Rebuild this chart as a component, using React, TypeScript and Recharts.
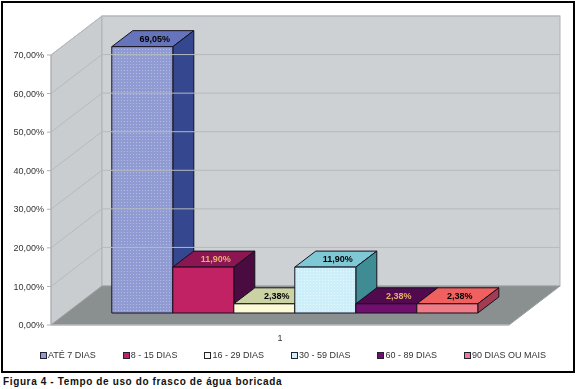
import { BarChart, Bar, XAxis, YAxis, Legend, LabelList, ReferenceArea, ReferenceLine } from 'recharts';

const categories = ['1'];
const seriesNames = ['ATÉ 7 DIAS', '8 - 15 DIAS', '16 - 29 DIAS', '30 - 59 DIAS', '60 - 89 DIAS', '90 DIAS OU MAIS'];
const seriesValues = [69.05, 11.9, 2.38, 11.9, 2.38, 2.38];
const yTicks = [0, 10, 20, 30, 40, 50, 60, 70];

const frontColors = ['#8f9bd2', '#c02264', '#fdfbd6', '#cdeffa', '#700f70', '#f07c88'];
const dotColors = ['#b4bce0', '#c02264', '#fdfbd6', '#e6f8fd', '#700f70', '#f07c88'];
const topColors = ['#6675bb', '#8c1652', '#cbd2a4', '#7fc9d6', '#520a4e', '#f0605f'];
const sideColors = ['#34478f', '#4a0c40', '#9a9c78', '#3f8c94', '#3d083c', '#a23c52'];
const labelColors = ['#000', '#e8b070', '#000', '#000', '#e8b070', '#000'];

const chartData = categories.map((name) => {
    const row: Record<string, string | number> = { name };
    seriesNames.forEach((s, i) => {
        row[s] = seriesValues[i];
    });
    return row;
});

const formatPct = (v: number) => v.toFixed(2).replace('.', ',') + '%';

// depth of the walls and of the bars, the picture is a fake 3D
const WALL_DX = 51;
const WALL_DY = 39;
const BAR_DX = 21;
const BAR_DY = 16;
const SHIFT_X = 15;
const SHIFT_Y = 12;
const FONT = '"Liberation Sans", Arial, sans-serif';

function Walls({ x, y, width, height }: any) {
    const bottom = y + height;
    return (
        <g>
            <polygon points={`${x},${y} ${x + WALL_DX},${y - WALL_DY} ${x + WALL_DX},${bottom - WALL_DY} ${x},${bottom}`} fill="#c9cdd0" stroke="#b0b3b5" />
            <rect x={x + WALL_DX} y={y - WALL_DY} width={width} height={height} fill="#cdd1d4" stroke="#aeb1b3" />
            <polygon
                points={`${x},${bottom} ${x + WALL_DX},${bottom - WALL_DY} ${x + WALL_DX + width},${bottom - WALL_DY} ${x + width},${bottom}`}
                fill="#8a8f8f"
                stroke="#9a9e9e"
            />
        </g>
    );
}

function GridLine({ x1, y1, x2, y2 }: any) {
    return <path d={`M${x1},${y1} L${x1 + WALL_DX},${y1 - WALL_DY} L${x2 + WALL_DX},${y2 - WALL_DY}`} fill="none" stroke="#b6babd" strokeWidth={1} />;
}

function Box3D({ x, y, width, height, index }: any) {
    const l = x + SHIFT_X;
    const t = y - SHIFT_Y;
    const r = l + width;
    const b = t + height;
    const id = `dots-${index}`;
    return (
        <g stroke="#14101e" strokeWidth={1} strokeLinejoin="round">
            <defs>
                <pattern id={id} width={3} height={3} patternUnits="userSpaceOnUse">
                    <rect width={3} height={3} fill={frontColors[index]} stroke="none" />
                    <rect x={1} y={1} width={1} height={1} fill={dotColors[index]} stroke="none" />
                </pattern>
            </defs>
            <polygon points={`${l},${t} ${l + BAR_DX},${t - BAR_DY} ${r + BAR_DX},${t - BAR_DY} ${r},${t}`} fill={topColors[index]} />
            <polygon points={`${r},${t} ${r + BAR_DX},${t - BAR_DY} ${r + BAR_DX},${b - BAR_DY} ${r},${b}`} fill={sideColors[index]} />
            <rect x={l} y={t} width={width} height={height} fill={`url(#${id})`} />
        </g>
    );
}

function TopLabel({ x, y, width, value, index }: any) {
    return (
        <text
            x={x + SHIFT_X + width / 2 + BAR_DX / 2 + 2}
            y={y - SHIFT_Y - BAR_DY / 2 + 3}
            textAnchor="middle"
            fontFamily={FONT}
            fontSize={9}
            fontWeight={700}
            fill={labelColors[index]}
        >
            {formatPct(value)}
        </text>
    );
}

function LegendRow() {
    return (
        <div style={{ display: 'flex', height: 40, paddingLeft: 40, fontFamily: FONT, fontSize: 9, color: '#333' }}>
            {seriesNames.map((name, i) => (
                <span key={name} style={{ display: 'flex', alignItems: 'center', height: 12, marginRight: 27 }}>
                    <span style={{ width: 5, height: 5, border: '1px solid #223', background: frontColors[i], marginRight: 1 }} />
                    {name}
                </span>
            ))}
        </div>
    );
}

export default function App() {
    return (
        <div style={{ position: 'absolute', left: 0, top: 0, width: 575, height: 389, background: '#fff' }}>
            <div style={{ position: 'absolute', left: 1, top: 1, width: 570, height: 368, border: '2px solid #000' }} />
            <div style={{ filter: 'blur(0.35px)' }}>
                <BarChart
                    width={575}
                    height={389}
                    data={chartData}
                    margin={{ top: 55, right: 66, bottom: 0, left: 0 }}
                    barCategoryGap="10%"
                    barGap={0}
                >
                    <ReferenceArea y1={0} y2={70} shape={<Walls />} />
                    {yTicks.slice(1).map((t) => (
                        <ReferenceLine key={t} y={t} shape={<GridLine />} />
                    ))}
                    <XAxis dataKey="name" height={24} tickLine={false} axisLine={{ stroke: '#c4c6c6' }} tick={{ fontFamily: FONT, fontSize: 9, fill: '#333' }} tickMargin={4} />
                    <YAxis
                        width={51}
                        domain={[0, 70]}
                        ticks={yTicks}
                        tickFormatter={formatPct}
                        interval={0}
                        tickSize={4}
                        tickMargin={3}
                        stroke="#aeb1b3"
                        tick={{ fontFamily: FONT, fontSize: 9, fill: '#333' }}
                    />
                    {seriesNames.map((name, i) => (
                        <Bar key={name} dataKey={name} fill={frontColors[i]} shape={(p: any) => <Box3D {...p} index={i} />} isAnimationActive={false}>
                            <LabelList dataKey={name} content={(p: any) => <TopLabel {...p} index={i} />} />
                        </Bar>
                    ))}
                    <Legend content={<LegendRow />} wrapperStyle={{ left: 0, top: 349, width: 575 }} />
                </BarChart>
            </div>
            <div
                style={{
                    position: 'absolute',
                    left: 3,
                    top: 376,
                    fontFamily: FONT,
                    fontSize: 10,
                    fontWeight: 700,
                    letterSpacing: 0.63,
                    color: '#111',
                    whiteSpace: 'nowrap',
                }}
            >
                Figura 4 - Tempo de uso do frasco de água boricada
            </div>
        </div>
    );
}
